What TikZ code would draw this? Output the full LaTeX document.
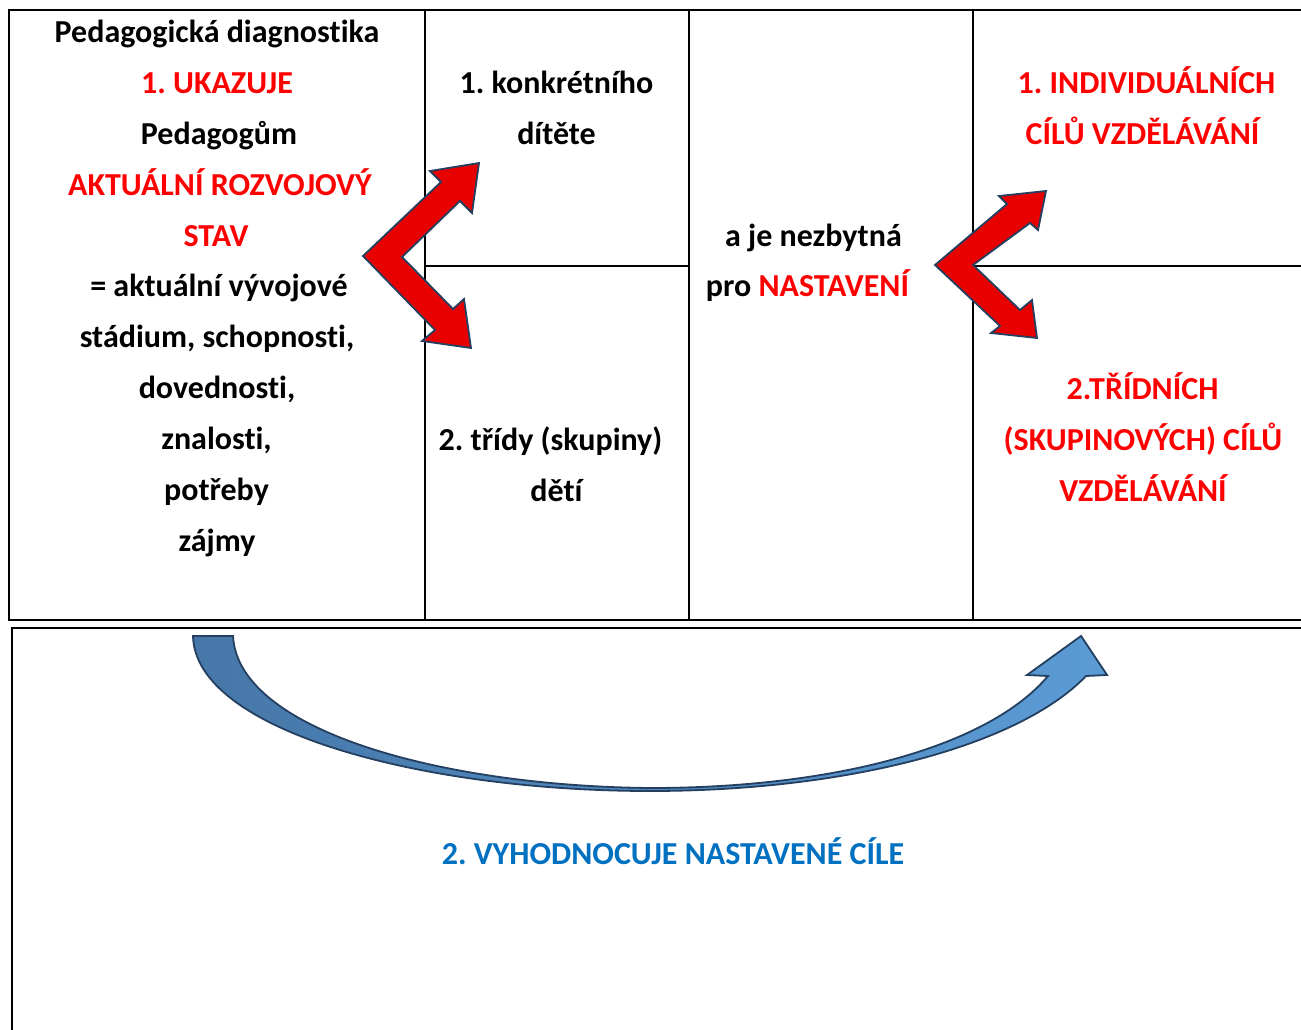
\documentclass[tikz,border=0pt]{standalone}
\usepackage{fontspec}
\setmainfont{Carlito}[Ligatures={NoCommon}]
\frenchspacing
\definecolor{tred}{HTML}{FF0000}
\definecolor{tblue}{HTML}{0070C0}
\definecolor{arred}{HTML}{E80000}
\definecolor{arline}{HTML}{243F60}
\definecolor{bdark}{HTML}{4677A8}
\definecolor{blight}{HTML}{5B9BD5}
\begin{document}
\frenchspacing
\begin{tikzpicture}[x=1pt,y=-1pt,
  tline/.style={line width=2pt,black},
  txt/.style={anchor=base,inner sep=0pt,font=\fontsize{32}{38}\selectfont\bfseries},
  redarrow/.style={fill=arred,draw=arline,line width=1.8pt,line join=miter},
  bluearrow/.style={left color=bdark,right color=blight,draw=arline,line width=1.8pt}]
\useasboundingbox (0,0) rectangle (1301,1030);
% table lines
\coordinate (tl) at (9,10);
\coordinate (tr) at (1301,10);
\coordinate (bl) at (9,620);
\coordinate (br) at (1301,620);
\draw[tline] (tr) -- (tl) -- (bl) -- (br);
\draw[tline] (425,10) -- (425,620);
\draw[tline] (689,10) -- (689,620);
\draw[tline] (973,10) -- (973,620);
\draw[tline] (425,266) -- (689,266);
\draw[tline] (973,266) -- (1301,266);
% bottom box
\draw[tline] (1301,628) -- (12,628) -- (12,1030);
% left column
\node[txt] (l1) at (217,42.5) {Pedagogická diagnostika};
\node[txt,text=tred] (l2) at (217,93.5) {1. UKAZUJE};
\node[txt] (l3) at (219,144.5) {Pedagogům};
\node[txt,text=tred] (l4) at (220,195.5) {AKTUÁLNÍ ROZVOJOVÝ};
\node[txt,text=tred] (l5) at (216,246.5) {STAV};
\node[txt] (l6) at (219,296.5) {= aktuální vývojové};
\node[txt] (l7) at (217,347.5) {stádium, schopnosti,};
\node[txt] (l8) at (217,398.5) {dovednosti,};
\node[txt] (l9) at (216.5,449.5) {znalosti,};
\node[txt] (l10) at (216.5,500.5) {potřeby};
\node[txt] (l11) at (217,551.5) {zájmy};
% column 2
\node[txt] (c1) at (556.5,93.5) {1. konkrétního};
\node[txt] (c2) at (556.5,144.5) {dítěte};
\node[txt] (c3) at (550.5,450.5) {2. třídy (skupiny)};
\node[txt] (c4) at (556.5,501.5) {dětí};
% column 3
\node[txt] (m1) at (813.5,246.5) {a je nezbytná};
\node[txt] (m2) at (807.5,296.5) {pro \textcolor{tred}{NASTAVENÍ}};
% column 4
\node[txt,text=tred] (r1) at (1146.5,93.5) {1. INDIVIDUÁLNÍCH};
\node[txt,text=tred] (r2) at (1142.5,144.5) {CÍLŮ VZDĚLÁVÁNÍ};
\node[txt,text=tred] (r3) at (1142.5,399.5) {2.TŘÍDNÍCH};
\node[txt,text=tred] (r4) at (1143,450.5) {(SKUPINOVÝCH) CÍLŮ};
\node[txt,text=tred] (r5) at (1143,501.5) {VZDĚLÁVÁNÍ};
% bottom
\node[txt,text=tblue] (b1) at (673,864.5) {2. VYHODNOCUJE NASTAVENÉ CÍLE};
% left red arrow
\draw[redarrow] (479,163) -- (472,213) -- (460,201) -- (402,257) -- (453,309) -- (464,299)
  -- (471,348) -- (422,341) -- (435,330) -- (363,256) -- (441,182) -- (430,171) -- cycle;
% right red arrow
\draw[redarrow] (1046,191) -- (1038,230) -- (1030,223) -- (973,265) -- (1020,310) -- (1032,300)
  -- (1037,338) -- (991,333) -- (1000,326) -- (935,265) -- (1007,204) -- (999,196) -- cycle;
% blue curved arrow
\draw[bluearrow] (193,636) .. controls (195,730) and (420,791) .. (650,791)
  .. controls (850,791) and (1020,745) .. (1086,676) -- (1107,675) -- (1081,636) -- (1027,675)
  -- (1048,676) .. controls (990,745) and (840,788) .. (650,788)
  .. controls (440,786) and (238,730) .. (233,636) -- cycle;
\end{tikzpicture}
\end{document}
